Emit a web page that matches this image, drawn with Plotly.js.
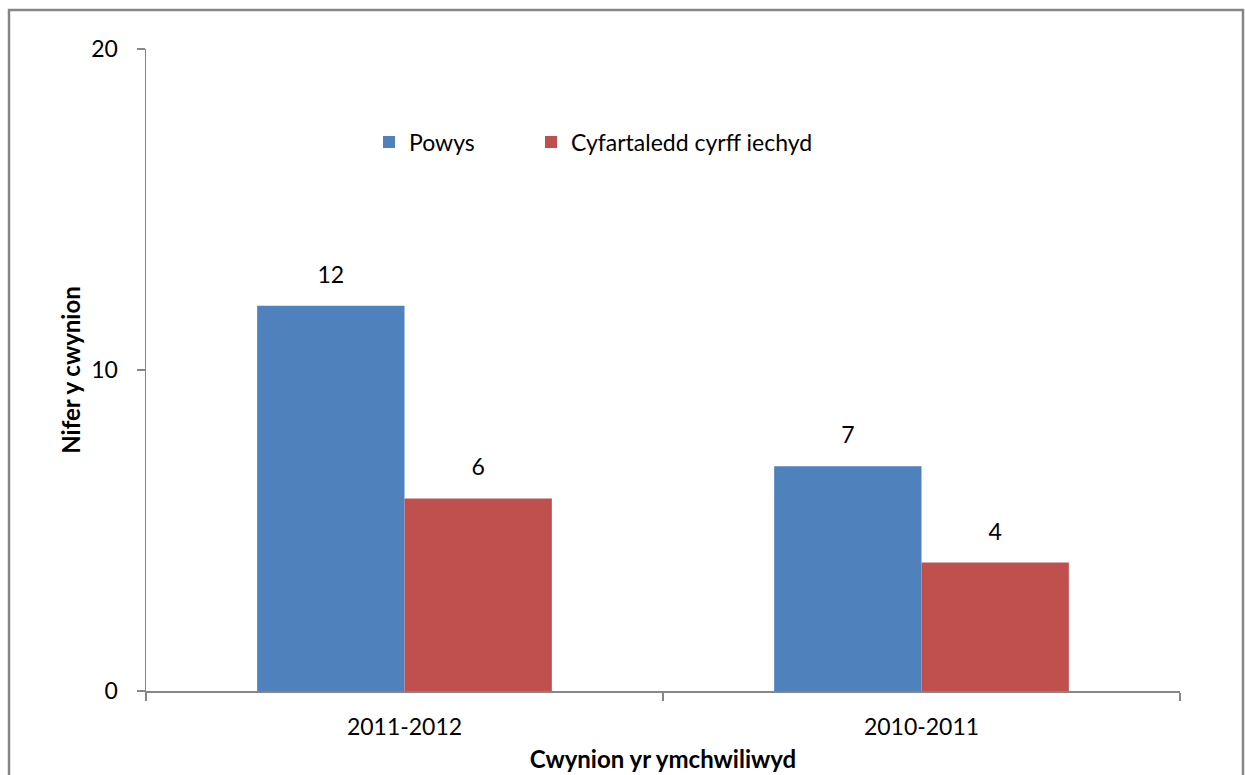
<!DOCTYPE html>
<html><head><meta charset="utf-8">
<script src="https://cdn.plot.ly/plotly-3.0.1.min.js"></script>
<style>html,body{margin:0;padding:0;background:#fff}</style>
</head><body>
<div id="chart" style="width:1245px;height:775px"></div>
<script>
const categories = ["2011-2012", "2010-2011"];
const powys = [12, 7];
const average = [6, 4];
const seriesNames = ["Powys", "Cyfartaledd cyrff iechyd"];
const colors = ["#4F81BD", "#C0504D"];
const yTicks = [0, 10, 20];

const font = "Lato, 'Open Sans', sans-serif";
const series = [powys, average];
const legendIds = ["legend", "legend2"];
const traces = [];
series.forEach((vals, i) => {
  traces.push({type: "bar", name: seriesNames[i], x: categories, y: vals, legend: legendIds[i],
    marker: {color: colors[i]}, offsetgroup: "g" + i, alignmentgroup: "a"});
});
series.forEach((vals, i) => {
  traces.push({type: "scatter", mode: "markers+text", x: categories, y: vals,
    text: vals.map(String), textposition: "top center", showlegend: false, cliponaxis: false,
    offsetgroup: "g" + i, alignmentgroup: "a",
    marker: {size: 26, opacity: 0}, textfont: {family: font, size: 23, color: "#000"}, hoverinfo: "skip"});
});
const W = 1034, H = 642;
const legendBase = {orientation: "h", y: 0.855, xanchor: "left", yanchor: "middle",
  font: {family: font, size: 23}, bgcolor: "rgba(0,0,0,0)"};
const layout = {
  width: 1245, height: 775,
  margin: {l: 146, r: 65, t: 49, b: 84},
  paper_bgcolor: "#fff", plot_bgcolor: "#fff",
  font: {family: font, size: 23, color: "#000"},
  barmode: "group", bargap: 0.43, bargroupgap: 0,
  scattermode: "group", scattergap: 0.43,
  showlegend: true,
  legend: Object.assign({}, legendBase, {x: (369 - 146) / W}),
  legend2: Object.assign({}, legendBase, {x: (531 - 146) / W}),
  xaxis: {type: "category", tickson: "boundaries", ticks: "outside", ticklen: 8, tickcolor: "#868686",
          tickwidth: 1.5, showline: true, linecolor: "#868686", linewidth: 1.5,
          ticklabelstandoff: 15, tickfont: {family: font, size: 23},
          title: {text: "<b>Cwynion yr ymchwiliwyd</b>", font: {family: font, size: 24}, standoff: 12}},
  yaxis: {range: [0, 20], tickvals: yTicks, ticks: "outside", ticklen: 8, tickcolor: "#868686", tickwidth: 1.5,
          showline: true, linecolor: "#868686", linewidth: 1.5, showgrid: false, zeroline: false,
          ticklabelstandoff: 14, tickfont: {family: font, size: 23},
          title: {text: "<b>Nifer y cwynion</b>", font: {family: font, size: 24}, standoff: 4}},
  shapes: [{type: "rect", xref: "paper", yref: "paper",
            x0: (9 - 146) / W, x1: (1243 - 146) / W, y0: (691 - 800) / H, y1: (691 - 10) / H,
            line: {color: "#868686", width: 2.5}, fillcolor: "rgba(0,0,0,0)", layer: "below"}]
};
Plotly.newPlot("chart", traces, layout, {displayModeBar: false, staticPlot: true});
</script>
</body></html>
